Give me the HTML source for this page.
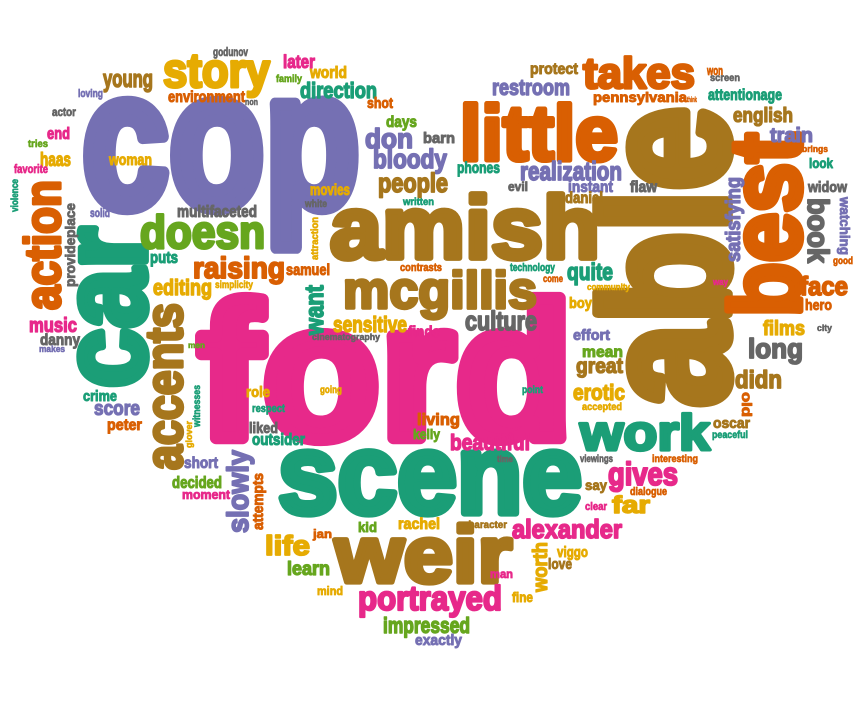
<!DOCTYPE html>
<html><head><meta charset="utf-8"><style>
html,body{margin:0;padding:0;background:#fff;width:864px;height:720px;overflow:hidden}
svg text{font-family:"Liberation Sans",sans-serif;font-weight:bold;stroke-linejoin:round}
</style></head><body>
<svg id="cloud" width="864" height="720" viewBox="0 0 864 720" xmlns="http://www.w3.org/2000/svg"></svg>
<script>
const C={pu:"#7570b3",or:"#d95f02",br:"#a6761d",pk:"#e7298a",te:"#1b9e77",gr:"#66a61e",ye:"#e6ab02",gy:"#666666"};
// [word, color, x, baseline y, font size, length, rotation]
const words=[
["cop","pu",82,207,195,278,0],["ford","pk",198,438,193,375,0],["able","br",727,407,178,300,-90],["best","or",800,317,100,184,-90],
["amish","br",330,258,88,270,0],["little","or",460,160,78,158,0],["scene","te",278,513,113,304,0],["weir","br",335,582,80,177,0],
["car","te",145,388,120,161,-90],["mcgillis","br",343,308,52,194,0],["takes","or",583,88,44,112,0],["story","ye",163,87,48,107,0],
["work","te",580,450,50,130,0],["accents","br",182,470,52,167,-90],["action","or",60,310,50,130,-90],["doesn","gr",140,248,46,125,0],
["raising","or",193,278,30,92,0],["portrayed","pk",358,610,34,144,0],["alexander","pk",512,538,26,110,0],
["young","br",103,87,24,50,0],["godunov","gy",213,56,12,35,0],["later","pk",283,68,18,32,0],["family","gr",276,82,10,26,0],
["world","ye",310,78,17,37,0],["environment","or",168,102,16,77,0],["non","gy",245,105,9,13,0],["loving","pu",78,97,11,25,0],
["actor","gy",52,116,12,24,0],["end","pk",47,139,17,23,0],["tries","gr",28,147,10,20,0],["haas","ye",40,166,19,31,0],
["favorite","pk",14,173,12,34,0],["woman","ye",109,165,16,43,0],["violence","te",18,212,10,33,-90],["provideplace","gy",75,287,14,84,-90],
["solid","pu",90,217,12,20,0],["multifaceted","gy",177,217,17,80,0],["puts","te",150,263,17,28,0],["samuel","or",286,275,16,44,0],
["editing","ye",153,295,22,59,0],["simplicity","ye",215,288,10,38,0],["movies","ye",310,195,16,40,0],["white","gy",305,207,10,22,0],
["attraction","ye",318,260,10,43,-90],["want","te",323,335,26,50,-90],["music","pk",29,332,20,48,0],["danny","gy",40,345,16,40,0],
["makes","pu",39,352,9,26,0],["men","gr",188,348,8,17,0],["crime","te",83,401,15,34,0],["score","pu",94,415,20,46,0],
["peter","or",107,430,16,35,0],["witnesses","te",200,427,10,42,-90],["glover","ye",192,448,9,27,-90],["short","pu",184,468,16,34,0],
["role","ye",246,397,15,24,0],["respect","te",252,412,11,33,0],["liked","gy",249,433,15,29,0],["outsider","te",252,445,17,53,0],
["cinematography","gy",312,340,9,68,0],["going","ye",320,393,10,22,0],["point","te",522,393,10,21,0],
["direction","te",300,98,22,77,0],["shot","or",367,108,15,26,0],["days","gr",386,127,16,31,0],["don","pu",365,148,28,48,0],
["barn","gy",423,143,15,32,0],["bloody","pu",373,168,27,74,0],["people","br",378,192,27,70,0],["phones","te",457,173,16,43,0],
["evil","gy",508,191,13,20,0],["written","te",403,205,10,31,0],["protect","br",530,74,16,48,0],["restroom","pu",492,95,22,78,0],
["realization","pu",520,180,26,102,0],["instant","pu",568,192,16,45,0],["daniel","br",565,203,16,38,0],["flaw","gy",630,192,16,27,0],
["contrasts","or",400,271,11,42,0],["technology","te",510,271,11,45,0],["come","or",543,282,10,20,0],["culture","gy",465,330,27,72,0],
["sensitive","ye",333,332,22,74,0],["finds","pk",408,337,16,32,0],["quite","te",567,280,24,46,0],["community","ye",587,290,9,43,0],
["boy","ye",569,308,15,23,0],["effort","pu",573,340,15,37,0],["mean","gr",582,357,16,41,0],["great","br",576,373,21,47,0],
["erotic","ye",573,400,22,52,0],["accepted","ye",582,410,10,40,0],["viewings","gy",580,462,10,33,0],["interesting","or",652,462,10,46,0],
["gives","pk",608,485,32,70,0],["say","br",585,490,14,22,0],["dialogue","or",630,495,11,37,0],["won","or",707,75,13,16,0],
["screen","gy",710,81,10,30,0],["pennsylvania","or",593,102,14,94,0],["think","or",687,102,7,10,0],["attentionage","te",708,100,16,74,0],
["english","br",733,122,20,60,0],["train","pu",770,142,20,43,0],["brings","or",802,152,9,26,0],["look","te",809,168,14,24,0],
["widow","gy",808,192,15,39,0],["satisfying","pu",740,262,20,85,-90],["book","gy",808,198,30,65,90],["watching","pu",840,197,14,58,90],
["good","or",833,264,10,20,0],["way","pk",713,285,9,15,0],["face","or",800,295,26,48,0],["hero","or",805,310,15,27,0],
["films","ye",763,335,20,42,0],["city","gy",817,331,9,15,0],["long","gy",748,358,28,55,0],["didn","br",735,388,25,47,0],
["old","or",742,392,14,25,90],["oscar","br",713,428,15,37,0],["peaceful","te",712,438,10,36,0],
["living","or",417,425,17,43,0],["kelly","gr",413,439,14,27,0],["beautiful","pk",450,450,22,80,0],["time","gy",497,462,9,16,0],
["decided","gr",172,488,17,50,0],["moment","pk",182,499,13,48,0],["slowly","pu",248,533,30,83,-90],["attempts","or",263,530,15,57,-90],
["life","ye",265,555,28,45,0],["jan","or",313,538,12,19,0],["learn","gr",287,575,19,43,0],["mind","ye",317,595,12,26,0],
["kid","gr",358,532,14,19,0],["rachel","ye",398,529,16,42,0],["character","br",463,528,10,44,0],["man","pk",490,578,12,23,0],
["worth","ye",547,592,20,50,-90],["viggo","ye",557,557,15,31,0],["love","br",548,569,15,24,0],["fine","ye",512,602,14,21,0],
["impressed","gr",383,633,22,87,0],["exactly","pu",415,645,15,47,0],["clear","pk",585,510,11,22,0],["far","ye",612,513,24,38,0]
];
const svg=document.getElementById('cloud');
const NS="http://www.w3.org/2000/svg";
for(const w of words){
  const el=document.createElementNS(NS,'text');
  el.textContent=w[0];
  
  
  el.setAttribute('x',0);el.setAttribute('y',0);
  el.setAttribute('font-size',w[4]);
  el.setAttribute('fill',C[w[1]]);
  el.setAttribute('stroke',C[w[1]]);
  el.setAttribute('stroke-width',Math.max(0.3,w[4]*0.065));
  el.setAttribute('textLength',w[5]);
  el.setAttribute('lengthAdjust','spacingAndGlyphs');
  el.setAttribute('transform','translate('+w[2]+','+w[3]+') rotate('+w[6]+')');
  svg.appendChild(el);
}
</script>
</body></html>
